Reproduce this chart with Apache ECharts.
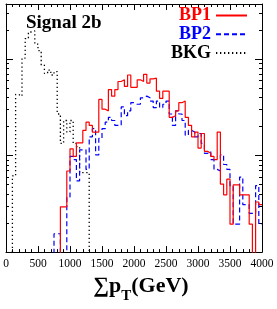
<!DOCTYPE html>
<html><head><meta charset="utf-8">
<script src="https://cdn.jsdelivr.net/npm/echarts@6/dist/echarts.min.js"></script>
<style>html,body{margin:0;padding:0;background:#fff}#c{width:277px;height:309px}</style>
</head><body><div id="c"></div>
<script>
// lower edges of 50 GeV bins
const binLow = [0,50,100,150,200,250,300,350,400,450,500,550,600,650,700,750,800,850,900,950,
1000,1050,1100,1150,1200,1250,1300,1350,1400,1450,1500,1550,1600,1650,1700,1750,1800,1850,1900,1950,
2000,2050,2100,2150,2200,2250,2300,2350,2400,2450,2500,2550,2600,2650,2700,2750,2800,2850,2900,2950,
3000,3050,3100,3150,3200,3250,3300,3350,3400,3450,3500,3550,3600,3650,3700,3750,3800,3850,3900,3950];
const binWidth = 50;

const bp1 = [0,0,0,0,0,0,0,0,0,0,0,0,0,0,0,0,0,
0.00295,0.00295,0.00694,0.0118,0.00984,0.0136,0.0136,0.0183,0.0223,0.0206,0.0176,0.0176,0.0384,0.0304,0.0292,0.0485,0.0415,0.0485,0.0589,0.0613,0.0524,0.0688,0.0512,
0.0512,0.0613,0.0589,0.0699,0.0567,0.0627,0.0637,0.0467,0.0393,0.0467,0.0467,0.0250,0.0260,0.0292,0.0355,0.0369,0.0250,0.0206,0.0157,0.0176,
0.0120,0.0170,0.0111,0.0106,0.00984,0.00911,0.0176,0.00508,0.00393,0.00571,0.00195,0.00498,0.00498,0.00393,0.00393,0.00393,0.00195,0,0.00331,0.00311];

const bp2 = [0,0,0,0,0,0,0,0,0,0,0,0,0,0,0,
0.00155,0.00155,0,0,0.00372,0.00984,0.00911,0.00549,0.0115,0.0115,0.00721,0.0157,0.0191,0.0102,0.0151,0.0191,0.0223,0.0250,0.0232,0.0206,0.0206,0.0321,0.0260,0.0292,0.0355,
0.0342,0.0342,0.0399,0.0415,0.0399,0.0369,0.0316,0.0369,0.0316,0.0342,0.0369,0.0271,0.0206,0.0292,0.0271,0.0232,0.0163,0.0183,0.0176,0.0157,
0.0170,0.0134,0.0106,0.0111,0.00911,0.00721,0.00694,0.0102,0.00811,0.00721,0.00489,0.00195,0.00195,0.00600,0.00311,0.00311,0.00252,0.00252,0.00489,0.00195];

const bkg = [0,0,0.00617,0.0432,0.0415,0.103,0.164,0.192,0.197,0.144,0.123,0.0869,0.0716,0.0774,0.0688,0.0744,0.0271,0.0134,0.0232,0.0176,
0.0232,0.0134,0.0124,0.00667,0.00667,0.00667,0,0,0,0,0,0,0,0,0,0,0,0,0,0,
0,0,0,0,0,0,0,0,0,0,0,0,0,0,0,0,0,0,0,0,
0,0,0,0,0,0,0,0,0,0,0,0,0,0,0,0,0,0,0,0];

const xTickLabels = ['0','500','1000','1500','2000','2500','3000','3500','4000'];
const xMin = 0, xMax = 4000, xStep = 500;
const yMin = 0.001, yMax = 0.375;
const yMajor = [0.001, 0.01, 0.1];
const yMinor = [0.002,0.003,0.004,0.005,0.006,0.007,0.008,0.009,
                0.02,0.03,0.04,0.05,0.06,0.07,0.08,0.09,0.2,0.3];

const FLOOR = 1e-7; // empty bins drawn below the axis floor
function steps(vals){
  const d = vals.map((v,i)=>[binLow[i], v>0 ? v : FLOOR]);
  d.push([binLow[binLow.length-1]+binWidth, d[d.length-1][1]]);
  return d;
}

const serif = 'Liberation Serif';
const L = v => Math.log10(v);

function xAx(pos, labels){
  return {
    type:'value', position:pos, min:xMin, max:xMax, interval:xStep,
    axisLine:{show:true, onZero:false, lineStyle:{color:'#000', width:1}},
    axisTick:{show:true, inside:true, length:6, lineStyle:{color:'#000'}},
    minorTick:{show:true, splitNumber:5, length:3, lineStyle:{color:'#000'}},
    splitLine:{show:false}, minorSplitLine:{show:false},
    axisLabel:{show:labels, fontFamily:serif, fontSize:11.5, color:'#000', margin:6,
      formatter: v => xTickLabels[Math.round((v-xMin)/xStep)]}
  };
}
function yTickAx(pos, vals, len, line){
  return {
    type:'value', position:pos, min:L(yMin), max:L(yMax),
    axisLine:{show:line, onZero:false, lineStyle:{color:'#000', width:1}},
    axisTick:{show:true, inside:true, length:len, customValues:vals.map(L), lineStyle:{color:'#000'}},
    axisLabel:{show:false}, splitLine:{show:false}
  };
}

const chart = echarts.init(document.getElementById('c'));
const xa0 = xAx('bottom', true);
xa0.name = '{a|∑p}{b|T}{a|(GeV)}';
xa0.nameLocation = 'middle';
xa0.nameGap = 22;
xa0.nameTextStyle = {padding:[0,0,0,14], rich:{
  a:{fontFamily:serif, fontSize:22, fontWeight:'bold', color:'#000', lineHeight:24, verticalAlign:'top'},
  b:{fontFamily:serif, fontSize:15, fontWeight:'bold', color:'#000', lineHeight:29, verticalAlign:'bottom'}
}};

const noSym = {opacity:0};
const legTxt = c => ({color:c, fontFamily:serif, fontSize:18, lineHeight:18, fontWeight:'bold'});
chart.setOption({
  animation:false,
  backgroundColor:'#fff',
  grid:{left:6, top:4, width:256, height:254, containLabel:false},
  title:{text:'Signal 2b', left:26, top:13.5, padding:0, textStyle:{fontFamily:serif, fontSize:19, fontWeight:'bold', color:'#000'}},
  legend:{
    data:[{name:'BP1', itemStyle:noSym},{name:'BP2', itemStyle:noSym},{name:'BKG', itemStyle:noSym}],
    orient:'vertical', right:29, top:6.5, padding:0, align:'right', itemWidth:31, itemHeight:10, itemGap:0.8,
    selectedMode:false, itemStyle:{opacity:0},
    formatter: n => '{' + n + '|' + n + '}',
    textStyle:{fontFamily:serif, fontSize:18, lineHeight:18, fontWeight:'bold', color:'#000',
      rich:{BP1:legTxt('#ff0000'), BP2:legTxt('#0000ff'), BKG:legTxt('#000000')}}
  },
  xAxis:[xa0, xAx('top', false)],
  yAxis:[
    {type:'log', logBase:10, min:yMin, max:yMax, show:false},
    yTickAx('left', yMajor, 7, true),
    yTickAx('left', yMinor, 3, false),
    yTickAx('right', yMajor, 7, true),
    yTickAx('right', yMinor, 3, false)
  ],
  series:[
    {name:'BKG', type:'line', step:'end', xAxisIndex:0, yAxisIndex:0, data:steps(bkg), symbol:'none', showSymbol:false, clip:true,
     lineStyle:{color:'#000', width:1.3, type:[1.3,2.7]}, itemStyle:{color:'#000'}},
    {name:'BP2', type:'line', step:'end', xAxisIndex:0, yAxisIndex:0, data:steps(bp2), symbol:'none', showSymbol:false, clip:true,
     lineStyle:{color:'#0000ff', width:1.2, type:[5,3]}, itemStyle:{color:'#0000ff'}},
    {name:'BP1', type:'line', step:'end', xAxisIndex:0, yAxisIndex:0, data:steps(bp1), symbol:'none', showSymbol:false, clip:true,
     lineStyle:{color:'#ff0000', width:1.2}, itemStyle:{color:'#ff0000'}}
  ]
});
</script></body></html>
